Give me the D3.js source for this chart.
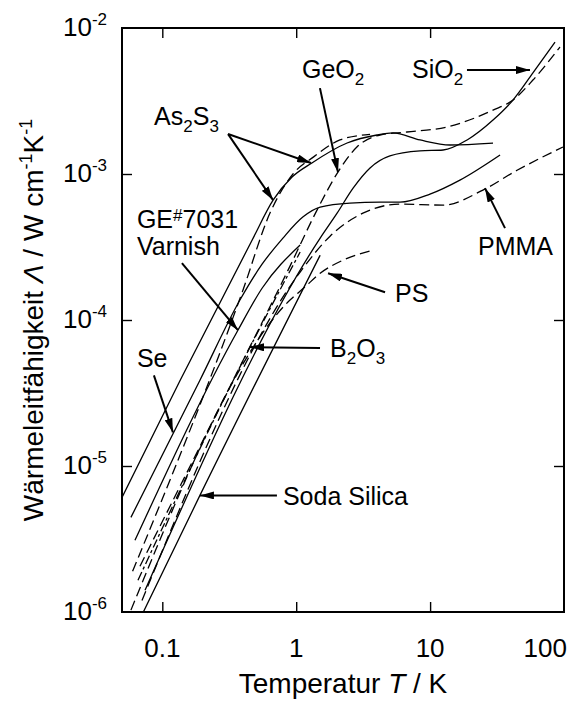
<!DOCTYPE html>
<html>
<head>
<meta charset="utf-8">
<script src="https://cdn.jsdelivr.net/npm/d3@7"></script>
<style>
body { margin: 0; background: #fff; }
text { font-family: "Liberation Sans", Arial, Helvetica, sans-serif; fill: #000; }
</style>
</head>
<body>
<script>
var width = 577, height = 702;
var margin = {top: 28, right: 13, bottom: 90, left: 122};

// Data: [T in K, Lambda in W cm^-1 K^-1]
var as2s3Solid = [[0.050, 6.1e-6], [0.136, 3.87e-5], [0.468, 3.52e-4], [0.672, 6.62e-4], [0.931, 9.53e-4],
                  [1.31, 1.19e-3], [2.40, 1.63e-3], [4.01, 1.85e-3], [5.28, 1.91e-3], [8.41, 1.71e-3],
                  [14.1, 1.58e-3], [29.5, 1.63e-3]];
var as2s3Dash  = [[0.060, 1.9e-6], [0.40, 1.6e-4], [0.637, 5.4e-4], [0.946, 1.0e-3], [1.35, 1.31e-3], [2.12, 1.71e-3], [3.56, 1.87e-3]];
var seSolid    = [[0.0583, 4.45e-6], [0.191, 3.87e-5], [0.380, 1.37e-4], [0.556, 2.41e-4], [0.796, 3.64e-4],
                  [1.12, 5.07e-4], [1.51, 5.93e-4], [2.52, 6.32e-4], [4.23, 6.41e-4], [5.96, 6.41e-4],
                  [9.98, 7.28e-4], [16.7, 9.08e-4], [33.3, 1.35e-3]];
var varnish    = [[0.0625, 3.10e-6], [0.367, 8.51e-5], [0.556, 1.65e-4], [1.07, 3.26e-4]];
var geo2       = [[0.0681, 2.06e-6], [0.321, 3.52e-5], [0.899, 2.34e-4], [1.43, 5.66e-4], [2.05, 1.03e-3],
                  [2.84, 1.53e-3], [4.23, 1.85e-3], [6.72, 1.94e-3], [13.4, 2.10e-3], [29.5, 2.74e-3],
                  [41.6, 3.21e-3], [58.6, 4.40e-3], [93.3, 7.41e-3]];
var sio2       = [[0.0743, 1.41e-6], [1.51, 3.64e-4], [2.02, 5.39e-4], [2.66, 8.00e-4], [3.56, 1.10e-3],
                  [5.01, 1.33e-3], [8.41, 1.44e-3], [12.5, 1.46e-3], [18.9, 1.71e-3], [29.5, 2.34e-3],
                  [41.6, 3.21e-3], [58.6, 4.92e-3], [85.7, 8.01e-3]];
var pmma       = [[0.0705, 1.20e-6], [1.07, 2.13e-4], [1.79, 3.75e-4], [3.15, 5.39e-4], [5.96, 6.22e-4],
                  [12.5, 6.12e-4], [24.8, 7.76e-4], [44.6, 1.06e-3], [98.2, 1.53e-3]];
var ps         = [[0.0583, 1.03e-6], [0.899, 1.37e-4], [1.16, 1.68e-4], [1.51, 2.09e-4], [2.24, 2.57e-4], [3.75, 3.01e-4]];
var b2o3       = [[0.0658, 1.65e-6], [0.452, 6.52e-5], [1.07, 2.92e-4]];
var sodaSilica = [[0.0718, 9.9e-7], [0.191, 6.29e-6], [1.51, 2.78e-4]];

var xTicks = [0.1, 1, 10, 100];
var yTicks = [1e-2, 1e-3, 1e-4, 1e-5, 1e-6];

// Labels: tip of arrow in data units, tail and text offset in px from the tip
var notes = [
  {text: [["Se", 0]], tip: [0.120, 1.70e-5], tail: [-19, -57], at: [-36, -65]},
  {text: [["GE", 0], ["#", -1], ["7031", 0]], tip: [0.367, 8.51e-5], tail: [-56, -67], at: [-101, -102]},
  {text: [["Varnish", 0]], tip: null, ref: [0.367, 8.51e-5], at: [-101, -75]},
  {text: [["As", 0], ["2", 1], ["S", 0], ["3", 1]], tip: [0.672, 6.62e-4], tail: [-45, -66], at: [-119, -75]},
  {text: [], tip: [1.29, 1.19e-3], tail: [-83, -29]},
  {text: [["GeO", 0], ["2", 1]], tip: [2.05, 1.03e-3], tail: [-18, -84], at: [-36, -94]},
  {text: [["SiO", 0], ["2", 1]], tip: [55.7, 5.15e-3], tail: [-63, 0], at: [-118, 8]},
  {text: [["PMMA", 0]], tip: [25.7, 8.0e-4], tail: [20, 40], at: [-7, 67]},
  {text: [["PS", 0]], tip: [1.73, 2.09e-4], tail: [57, 19], at: [67, 29]},
  {text: [["B", 0], ["2", 1], ["O", 0], ["3", 1]], tip: [0.452, 6.52e-5], tail: [70, 1], at: [80, 10]},
  {text: [["Soda Silica", 0]], tip: [0.191, 6.29e-6], tail: [77, 0], at: [83, 10]}
];

var series = [
  {d: as2s3Solid, dash: null}, {d: as2s3Dash, dash: "10,5"}, {d: seSolid, dash: null},
  {d: varnish, dash: null}, {d: geo2, dash: "10,5"}, {d: sio2, dash: null},
  {d: pmma, dash: "10,5"}, {d: ps, dash: "10,5"}, {d: b2o3, dash: "9,3,3,3"}, {d: sodaSilica, dash: null}
];

// Scales
var xScale = d3.scaleLog().domain([0.05, 100]).range([margin.left, width - margin.right]);
var yScale = d3.scaleLog().domain([1e-6, 1e-2]).range([height - margin.bottom, margin.top]);

var svg = d3.select("body").append("svg")
  .attr("width", width)
  .attr("height", height);

var defs = svg.append("defs");
defs.append("clipPath").attr("id", "plot")
  .append("rect")
    .attr("x", margin.left).attr("y", margin.top)
    .attr("width", width - margin.left - margin.right)
    .attr("height", height - margin.top - margin.bottom);
defs.append("marker")
    .attr("id", "head")
    .attr("viewBox", "0 0 14 8")
    .attr("refX", 14).attr("refY", 4)
    .attr("markerWidth", 14).attr("markerHeight", 8)
    .attr("markerUnits", "userSpaceOnUse")
    .attr("orient", "auto")
  .append("path")
    .attr("d", "M0,0L14,4L0,8Z")
    .attr("fill", "#000");

// Curves
var line = d3.line()
  .x(d => xScale(d[0]))
  .y(d => yScale(d[1]))
  .curve(d3.curveMonotoneX);

svg.append("g")
  .attr("clip-path", "url(#plot)")
  .selectAll("path")
  .data(series)
  .enter()
  .append("path")
    .attr("d", s => line(s.d))
    .attr("fill", "none")
    .attr("stroke", "#000")
    .attr("stroke-width", 1.3)
    .attr("stroke-dasharray", s => s.dash);

// Axes, ticks inside on all four sides
var bottom = height - margin.bottom, right = width - margin.right;
svg.append("g")
  .attr("transform", "translate(0," + bottom + ")")
  .call(d3.axisBottom(xScale).tickValues([0.1, 1, 10]).tickSize(-10).tickFormat(""));
svg.append("g")
  .attr("transform", "translate(0," + margin.top + ")")
  .call(d3.axisTop(xScale).tickValues([0.1, 1, 10]).tickSize(-10).tickFormat(""));
svg.append("g")
  .attr("transform", "translate(" + margin.left + ",0)")
  .call(d3.axisLeft(yScale).tickValues([1e-3, 1e-4, 1e-5]).tickSize(-10).tickFormat(""));
svg.append("g")
  .attr("transform", "translate(" + right + ",0)")
  .call(d3.axisRight(yScale).tickValues([1e-3, 1e-4, 1e-5]).tickSize(-10).tickFormat(""));
svg.selectAll(".domain").remove();
svg.selectAll(".tick line").attr("stroke", "#000").attr("stroke-width", 1.4);

svg.append("rect")
  .attr("x", margin.left).attr("y", margin.top)
  .attr("width", right - margin.left)
  .attr("height", bottom - margin.top)
  .attr("fill", "none")
  .attr("stroke", "#000")
  .attr("stroke-width", 2);

// Tick labels
svg.selectAll(".xlab")
  .data(xTicks)
  .enter()
  .append("text")
    .attr("class", "xlab")
    .attr("x", d => d == 100 ? xScale(d) + 3 : xScale(d))
    .attr("y", 657)
    .attr("text-anchor", d => d == 100 ? "end" : "middle")
    .attr("font-size", "26px")
    .text(d => d);

var ylab = svg.selectAll(".ylab")
  .data(yTicks)
  .enter()
  .append("text")
    .attr("class", "ylab")
    .attr("x", 63)
    .attr("y", d => yScale(d) + 8)
    .attr("font-size", "26px");
ylab.append("tspan").text("10");
ylab.append("tspan")
  .attr("dy", -11)
  .attr("font-size", "17px")
  .text(d => "-" + Math.round(-Math.log10(d)));

// Axis titles
var xt = svg.append("text")
  .attr("x", (margin.left + right) / 2)
  .attr("y", 693)
  .attr("text-anchor", "middle")
  .attr("font-size", "28px");
xt.append("tspan").text("Temperatur ");
xt.append("tspan").attr("font-style", "italic").text("T");
xt.append("tspan").text(" / K");

var yt = svg.append("text")
  .attr("transform", "translate(43," + ((margin.top + bottom) / 2) + ") rotate(-90)")
  .attr("text-anchor", "middle")
  .attr("font-size", "28px");
yt.append("tspan").text("Wärmeleitfähigkeit ");
yt.append("tspan").attr("font-style", "italic").text("Λ");
yt.append("tspan").text(" / W cm");
yt.append("tspan").attr("dy", -11).attr("font-size", "18px").text("-1");
yt.append("tspan").attr("dy", 11).text("K");
yt.append("tspan").attr("dy", -11).attr("font-size", "18px").text("-1");

// Annotations
notes.forEach(function(n) {
  var base = n.tip || n.ref;
  var px = xScale(base[0]), py = yScale(base[1]);
  if (n.tip) {
    svg.append("line")
      .attr("x1", px + n.tail[0]).attr("y1", py + n.tail[1])
      .attr("x2", px).attr("y2", py)
      .attr("stroke", "#000")
      .attr("stroke-width", 2)
      .attr("marker-end", "url(#head)");
  }
  if (n.text.length) {
    var t = svg.append("text")
      .attr("x", px + n.at[0])
      .attr("y", py + n.at[1])
      .attr("font-size", "25px");
    var shift = 0;
    n.text.forEach(function(p) {
      var dy = p[1] * 7 - shift;
      shift = p[1] * 7;
      t.append("tspan")
        .attr("dy", dy)
        .attr("font-size", p[1] != 0 ? "17px" : "25px")
        .text(p[0]);
    });
  }
});
</script>
</body>
</html>
